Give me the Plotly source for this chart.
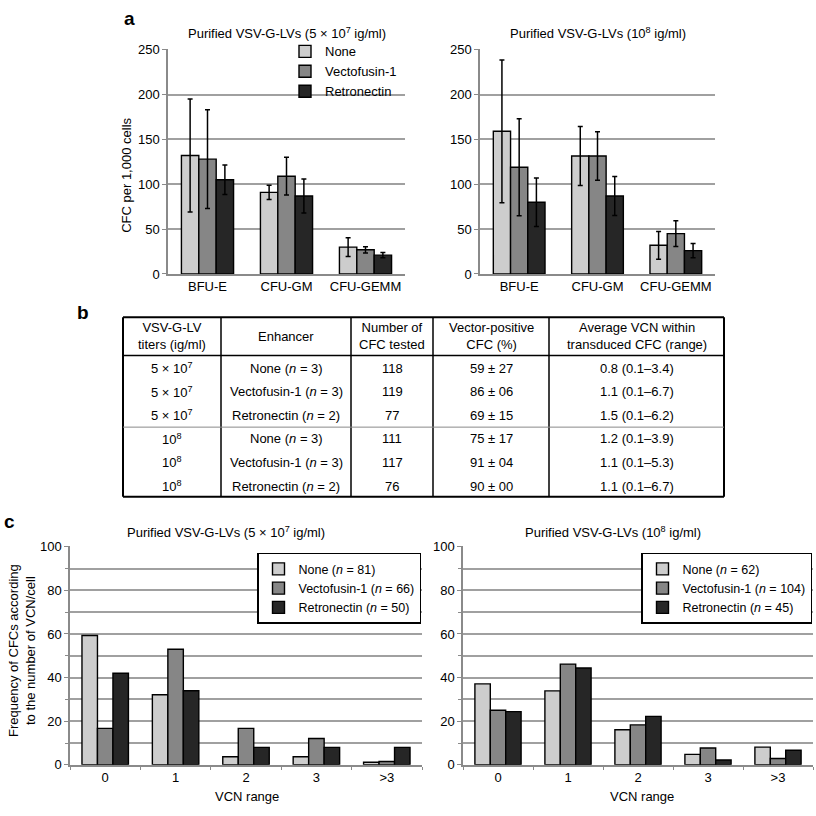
import plotly.graph_objects as go

W = H = 816
def px(x): return x / W
def py(y): return 1 - y / H

FONT = "Liberation Sans, Arial, sans-serif"
FS = 13

# ---------------- data ----------------
groups = ["None", "Vectofusin-1", "Retronectin"]
colors = ["#cdcdcd", "#868686", "#262626"]

cfc_types = ["BFU-E", "CFU-GM", "CFU-GEMM"]
a_low_none = [132, 91, 30]
a_low_none_sd = [63, 8, 10.5]
a_low_vecto = [128, 109, 27]
a_low_vecto_sd = [55, 21, 3.5]
a_low_retro = [105, 87, 21]
a_low_retro_sd = [16.5, 19, 3]
a_high_none = [159, 131.5, 32]
a_high_none_sd = [79.5, 33, 15.5]
a_high_vecto = [119, 131.5, 45]
a_high_vecto_sd = [54, 27, 14.4]
a_high_retro = [80, 87, 26]
a_high_retro_sd = [27, 21.7, 8]

tbl_header = ["VSV-G-LV<br>titers (ig/ml)", "Enhancer", "Number of<br>CFC tested",
              "Vector-positive<br>CFC (%)", "Average VCN within<br>transduced CFC (range)"]
tbl_titers = ["5 × 10<sup>7</sup>"] * 3 + ["10<sup>8</sup>"] * 3
tbl_enhancer = ["None (<i>n</i> = 3)", "Vectofusin-1 (<i>n</i> = 3)", "Retronectin (<i>n</i> = 2)",
                "None (<i>n</i> = 3)", "Vectofusin-1 (<i>n</i> = 3)", "Retronectin (<i>n</i> = 2)"]
tbl_cfc_tested = ["118", "119", "77", "111", "117", "76"]
tbl_vector_pos = ["59 ± 27", "86 ± 06", "69 ± 15", "75 ± 17", "91 ± 04", "90 ± 00"]
tbl_avg_vcn = ["0.8 (0.1–3.4)", "1.1 (0.1–6.7)", "1.5 (0.1–6.2)",
               "1.2 (0.1–3.9)", "1.1 (0.1–5.3)", "1.1 (0.1–6.7)"]

vcn_cats = ["0", "1", "2", "3", ">3"]
c_low_none = [59.3, 32.1, 3.7, 3.7, 1.2]
c_low_vecto = [16.7, 53.0, 16.7, 12.1, 1.5]
c_low_retro = [42.0, 34.0, 8.0, 8.0, 8.0]
c_low_names = ["None (<i>n</i> = 81)", "Vectofusin-1 (<i>n</i> = 66)", "Retronectin (<i>n</i> = 50)"]
c_high_none = [37.1, 33.9, 16.1, 4.8, 8.1]
c_high_vecto = [25.0, 46.2, 18.3, 7.7, 2.9]
c_high_retro = [24.4, 44.4, 22.2, 2.2, 6.7]
c_high_names = ["None (<i>n</i> = 62)", "Vectofusin-1 (<i>n</i> = 104)", "Retronectin (<i>n</i> = 45)"]

# ---------------- figure ----------------
fig = go.Figure()

def add_bars(vals, sds, names, xa, ya, legend, showlegend, xcats):
    for i in range(3):
        err = None
        if sds is not None:
            err = dict(type="data", array=sds[i], color="black", thickness=1.5, width=2.5)
        fig.add_trace(go.Bar(
            x=xcats, y=vals[i], name=names[i],
            marker=dict(color=colors[i], line=dict(color="black", width=1.4)),
            error_y=err, xaxis=xa, yaxis=ya, legend=legend, showlegend=showlegend,
        ))

add_bars([a_low_none, a_low_vecto, a_low_retro], [a_low_none_sd, a_low_vecto_sd, a_low_retro_sd],
         groups, "x", "y", "legend", True, cfc_types)
add_bars([a_high_none, a_high_vecto, a_high_retro], [a_high_none_sd, a_high_vecto_sd, a_high_retro_sd],
         groups, "x2", "y2", "legend", False, cfc_types)
add_bars([c_low_none, c_low_vecto, c_low_retro], None, c_low_names, "x3", "y3", "legend2", True, vcn_cats)
add_bars([c_high_none, c_high_vecto, c_high_retro], None, c_high_names, "x4", "y4", "legend3", True, vcn_cats)

GRID = "#a0a0a0"
AXL = "#8a8a8a"
TICKF = dict(size=FS, color="black", family=FONT)

def xax(dom):
    return dict(domain=dom, type="category", showline=True, linecolor=AXL, linewidth=1.5,
                showgrid=False, zeroline=False, tickfont=TICKF, fixedrange=True)

def yax_a(dom, anchor):
    return dict(domain=dom, anchor=anchor, range=[0, 250.5], dtick=50, showline=True, linecolor=AXL,
                linewidth=1.5, showgrid=True, gridcolor=GRID, gridwidth=2, zeroline=False,
                ticks="outside", ticklen=4, tickcolor=AXL, tickfont=TICKF)

def yax_c(dom, anchor):
    return dict(domain=dom, anchor=anchor, range=[0, 100.4], dtick=20, showline=True, linecolor=AXL,
                linewidth=1.5, showgrid=True, gridcolor=GRID, gridwidth=2, zeroline=False,
                ticks="outside", ticklen=4, tickcolor=AXL,
                minor=dict(dtick=10, showgrid=True, gridcolor=GRID, gridwidth=2, ticks="outside",
                           ticklen=3, tickcolor=AXL),
                tickfont=TICKF)

ya_dom = [py(272), py(43)]
yc_dom = [py(772), py(549)]

xc = xax([px(70), px(422)])
xc.update(ticks="outside", tickson="boundaries", ticklen=3, tickcolor=AXL)
xc4 = xax([px(463), px(813)])
xc4.update(ticks="outside", tickson="boundaries", ticklen=3, tickcolor=AXL)

fig.update_layout(
    width=W, height=H, margin=dict(l=0, r=0, t=0, b=0),
    paper_bgcolor="white", plot_bgcolor="white",
    font=dict(family=FONT, size=FS, color="black"),
    barmode="group", bargap=0.34, bargroupgap=0,
    xaxis=dict(xax([px(168), px(405)]), anchor="y"),
    yaxis=yax_a(ya_dom, "x"),
    xaxis2=dict(xax([px(480), px(715)]), anchor="y2"),
    yaxis2=yax_a(ya_dom, "x2"),
    xaxis3=dict(xc, anchor="y3"),
    yaxis3=yax_c(yc_dom, "x3"),
    xaxis4=dict(xc4, anchor="y4"),
    yaxis4=yax_c(yc_dom, "x4"),
    legend=dict(x=px(285), y=py(30), xanchor="left", yanchor="top", bgcolor="rgba(0,0,0,0)",
                font=dict(size=13, family=FONT), itemwidth=30, tracegroupgap=0),
    legend2=dict(x=px(421), y=py(556), xanchor="right", yanchor="top", bgcolor="white",
                 bordercolor="black", borderwidth=1.5, font=dict(size=12.5, family=FONT), itemwidth=30),
    legend3=dict(x=px(812), y=py(556), xanchor="right", yanchor="top", bgcolor="white",
                 bordercolor="black", borderwidth=1.5, font=dict(size=12.5, family=FONT), itemwidth=30),
    showlegend=True,
)

# table borders (panel b)
T_LEFT, T_RIGHT, T_TOP, T_BOTTOM = 123, 724, 316, 499
col_edges = [123, 221, 351, 433, 549, 724]
header_bottom = 355
row_h = 24
shapes = []
def line(x0, y0, x1, y1, color="black", width=1.5):
    shapes.append(dict(type="line", xref="paper", yref="paper", x0=px(x0), y0=py(y0), x1=px(x1),
                       y1=py(y1), line=dict(color=color, width=width), layer="above"))
line(T_LEFT, T_TOP, T_RIGHT, T_TOP, width=2)
line(T_LEFT, T_BOTTOM, T_RIGHT, T_BOTTOM, width=2)
line(T_LEFT, T_TOP, T_LEFT, T_BOTTOM, width=2)
line(T_RIGHT, T_TOP, T_RIGHT, T_BOTTOM, width=2)
for xv in col_edges[1:-1]:
    line(xv, T_TOP, xv, T_BOTTOM, width=1.5)
line(T_LEFT, header_bottom, T_RIGHT, header_bottom, width=1.5)
line(T_LEFT, header_bottom + 3 * row_h + 1, T_RIGHT, header_bottom + 3 * row_h + 1, color="#8a8a8a", width=1)
fig.update_layout(shapes=shapes)

ann = []
def text(x, y, s, size=FS, bold=False, angle=0, xanchor="center"):
    ann.append(dict(x=px(x), y=py(y), xref="paper", yref="paper", text=(f"<b>{s}</b>" if bold else s),
                    showarrow=False, font=dict(size=size, family=FONT, color="black"),
                    xanchor=xanchor, yanchor="middle", textangle=angle))

col_centers = [(col_edges[i] + col_edges[i + 1]) / 2 for i in range(5)]
for ci, h in enumerate(tbl_header):
    text(col_centers[ci], (T_TOP + header_bottom) / 2, h)
columns = [tbl_titers, tbl_enhancer, tbl_cfc_tested, tbl_vector_pos, tbl_avg_vcn]
for ci, col in enumerate(columns):
    for ri, v in enumerate(col):
        text(col_centers[ci], header_bottom + row_h * (ri + 0.5) + 1, v)

text(129, 12, "a", size=19, bold=True)
text(83, 311, "b", size=19, bold=True)
text(9, 524, "c", size=19, bold=True)
text(287, 26, "Purified VSV-G-LVs (5 × 10<sup>7</sup> ig/ml)")
text(598, 26, "Purified VSV-G-LVs (10<sup>8</sup> ig/ml)")
text(127, 172, "CFC per 1,000 cells", angle=-90)
text(226, 535, "Purified VSV-G-LVs (5 × 10<sup>7</sup> ig/ml)")
text(613, 535, "Purified VSV-G-LVs (10<sup>8</sup> ig/ml)")
text(22, 656, "Frequency of CFCs according<br>to the number of VCN/cell", angle=-90)
text(247, 804, "VCN range")
text(642, 804, "VCN range")
fig.update_layout(annotations=ann)

fig.write_html("out.html", config={"displayModeBar": False},
               post_script="document.body.style.margin='0';")
